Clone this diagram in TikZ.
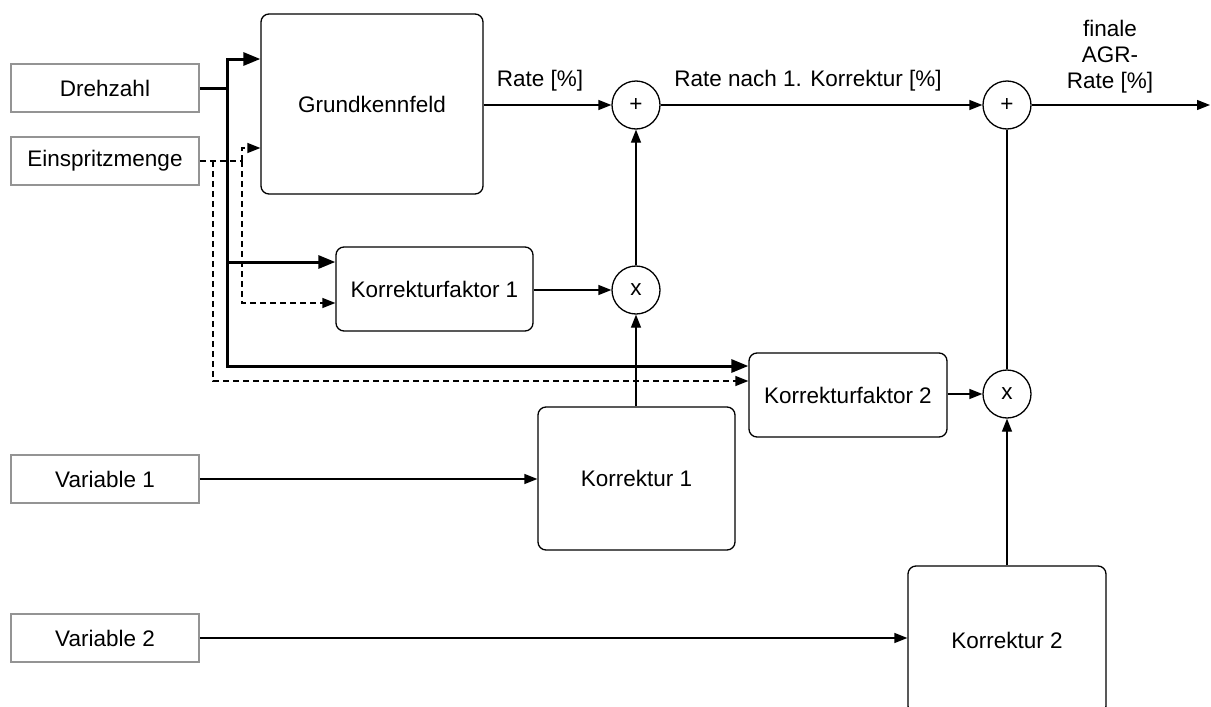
\documentclass[tikz,border=0pt]{standalone}
\usepackage{fontspec}
\setmainfont{Liberation Sans}
\usetikzlibrary{arrows.meta}
\begin{document}
\begin{tikzpicture}[x=1pt,y=-1pt,
  every node/.style={font=\fontsize{22.5}{26}\selectfont},
  inbox/.style={draw=black!42, line width=1.5pt, minimum width=188pt, minimum height=48pt, inner sep=0pt},
  blk/.style={draw, rounded corners=8pt, line width=1.3pt, inner sep=0pt},
  opc/.style={circle, draw, line width=1.3pt, minimum size=48pt, inner sep=0pt},
  conn/.style={line width=1.3pt, -{Triangle[length=13pt,width=10pt]}},
  plain/.style={line width=1.3pt},
  thickc/.style={line width=3pt, -{Triangle[length=17pt,width=13pt]}},
  thickl/.style={line width=3pt},
  dashl/.style={line width=1.3pt, dash pattern=on 6pt off 4pt},
  dashc/.style={dashl, -{Triangle[length=13pt,width=10pt]}},
  lbl/.style={inner sep=0pt, align=center}
]
\useasboundingbox (0,0) rectangle (1211,707);
\clip (0,0) rectangle (1211,707);
\fill[white] (0,0) rectangle (1211,707);

% input boxes
\node[inbox] (drehzahl) at (105,88) {Drehzahl};
\node[inbox] (einspritz) at (105,161) {Einspritzmenge};
\node[inbox] (var1) at (105,479) {Variable 1};
\node[inbox] (var2) at (105,638) {Variable 2};

% blocks
\node[blk, minimum width=222pt, minimum height=180pt] (grund) at (372,104) {Grundkennfeld};
\node[blk, minimum width=197pt, minimum height=84pt] (kf1) at (434.5,289) {Korrekturfaktor 1};
\node[blk, minimum width=198pt, minimum height=84pt] (kf2) at (848,395) {Korrekturfaktor 2};
\node[blk, minimum width=197pt, minimum height=143pt] (kor1) at (636.5,478.5) {Korrektur 1};
\node[blk, minimum width=198pt, minimum height=148pt] (kor2) at (1007,640) {Korrektur 2};

% operators
\node[opc] (plus1) at (636,105) {+};
\node[opc] (mul1) at (636,290) {x};
\node[opc] (plus2) at (1007,105) {+};
\node[opc] (mul2) at (1007,394) {x};

% junctions
\coordinate (jd) at (227,88);
\coordinate (je1) at (213,161);
\coordinate (je2) at (242,161);
\coordinate (out) at (1210,105);

% Drehzahl (thick)
\draw[thickl] (drehzahl.east) -- (jd);
\draw[thickc] (jd) |- (grund.west |- 0,59);
\draw[thickc] (jd) |- (kf1.west |- 0,262);
\draw[thickc] (jd) |- (kf2.west |- 0,366);

% Einspritzmenge (dashed)
\draw[dashl] (einspritz.east) -- (je2);
\draw[dashc] (je2) |- (grund.west |- 0,148);
\draw[dashc] (je2) |- (kf1.west |- 0,303);
\draw[dashc] (je1) |- (kf2.west |- 0,381);

% signal path
\draw[conn] (grund.east |- plus1.west) -- (plus1.west);
\draw[conn] (plus1) -- (plus2);
\draw[conn] (plus2) -- (out);
\draw[conn] (kf1.east |- mul1.west) -- (mul1.west);
\draw[conn] (mul1) -- (plus1);
\draw[conn] (kor1.north -| mul1) -- (mul1);
\draw[conn] (var1.east) -- (var1.east -| kor1.west);
\draw[conn] (var2.east) -- (var2.east -| kor2.west);
\draw[conn] (kf2.east |- mul2.west) -- (mul2.west);
\draw[conn] (kor2.north -| mul2) -- (mul2);
\draw[plain] (mul2) -- (plus2);

% labels
\node[lbl] (lrate) at (540,81) {Rate [\%]};
\node[lbl] (lrate1) at (808,81) {Rate nach 1. Korrektur [\%]};
\node[lbl] (lfinal) at (1110,57) {finale\\AGR-\\Rate [\%]};
\end{tikzpicture}
\end{document}
